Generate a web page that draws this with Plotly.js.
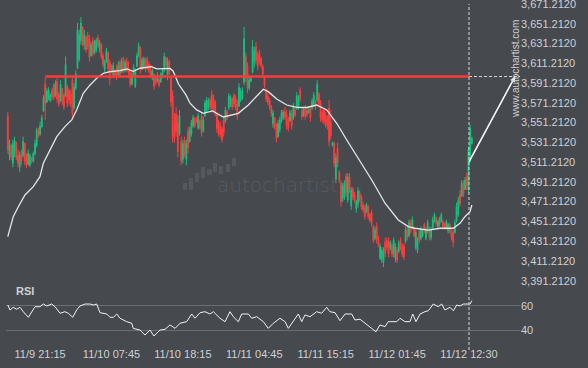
<!DOCTYPE html>
<html><head><meta charset="utf-8">
<script src="https://cdn.plot.ly/plotly-3.0.1.min.js"></script>
<style>html,body{margin:0;padding:0;background:#46494e;}#chart{width:588px;height:368px;}</style>
</head><body><div id="chart"></div>
<script>
// ---- DATA (15-min candles) ----
const open = [
3558,3518,3528,3510,3522,3531,3518,3506,3520,3518,
3530,3514,3509,3508,3516,3512,3520,3528,3544,3539,
3547,3563,3590,3572,3575,3573,3584,3589,3578,3593,
3580,3573,3586,3579,3578,3588,3584,3580,3594,3566,
3586,3606,3615,3634,3648,3630,3638,3640,3636,3619,
3634,3622,3624,3637,3626,3630,3619,3605,3612,3622,
3612,3608,3600,3604,3606,3598,3612,3602,3615,3604,
3613,3606,3603,3590,3598,3588,3608,3618,3626,3605,
3608,3616,3614,3610,3604,3597,3600,3596,3593,3595,
3592,3598,3604,3617,3600,3613,3597,3578,3550,3560,
3552,3540,3532,3514,3533,3514,3542,3532,3540,3548,
3555,3555,3546,3553,3558,3543,3558,3563,3566,3574,
3580,3575,3572,3560,3552,3548,3545,3554,3553,3562,
3566,3570,3575,3579,3576,3570,3568,3574,3576,3592,
3618,3608,3586,3593,3602,3612,3628,3620,3622,3616,
3608,3598,3584,3578,3574,3567,3550,3556,3548,3537,
3544,3553,3556,3562,3560,3553,3553,3560,3556,3564,
3566,3568,3584,3563,3558,3565,3563,3561,3565,3566,
3570,3572,3574,3580,3571,3562,3564,3558,3556,3566,
3552,3528,3530,3494,3525,3501,3490,3474,3476,3497,
3473,3496,3467,3484,3478,3464,3469,3480,3476,3468,
3465,3461,3466,3458,3460,3446,3434,3446,3435,3414,
3413,3410,3430,3432,3431,3424,3427,3419,3414,3422,
3421,3432,3426,3426,3431,3443,3437,3450,3444,3444,
3425,3422,3441,3434,3436,3448,3434,3441,3443,3435,
3445,3452,3455,3446,3449,3452,3451,3449,3445,3442,
3448,3441,3440,3440,3452,3458,3478,3477,3490,3484,
3497,3483,3512,3530];
const high = [
3562,3534,3529,3534,3537,3532,3524,3522,3524,3537,
3531,3520,3524,3520,3516,3522,3534,3546,3546,3552,
3559,3579,3597,3586,3587,3581,3586,3591,3594,3597,
3582,3594,3586,3581,3618,3589,3586,3584,3597,3591,
3604,3652,3645,3658,3648,3645,3638,3643,3640,3633,
3638,3635,3637,3640,3635,3632,3622,3615,3627,3623,
3615,3610,3612,3604,3610,3613,3615,3617,3618,3615,
3617,3613,3604,3602,3610,3606,3622,3632,3628,3617,
3618,3617,3618,3613,3610,3606,3601,3599,3602,3596,
3602,3606,3622,3618,3617,3615,3597,3584,3561,3567,
3559,3564,3537,3534,3537,3534,3547,3547,3554,3559,
3557,3557,3561,3554,3561,3557,3574,3577,3576,3577,
3584,3579,3574,3561,3554,3552,3547,3557,3567,3564,
3581,3579,3577,3581,3579,3574,3591,3586,3587,3648,
3622,3612,3597,3597,3635,3628,3633,3623,3625,3618,
3610,3599,3586,3581,3576,3569,3564,3557,3551,3554,
3557,3564,3564,3567,3564,3557,3564,3564,3571,3566,
3582,3579,3587,3567,3567,3569,3566,3567,3567,3576,
3582,3574,3594,3582,3574,3564,3566,3562,3559,3574,
3564,3532,3532,3520,3531,3503,3493,3490,3493,3500,
3500,3500,3486,3486,3481,3473,3486,3483,3478,3471,
3468,3470,3468,3460,3463,3448,3446,3450,3437,3429,
3425,3425,3435,3435,3435,3432,3429,3435,3429,3425,
3432,3435,3429,3429,3446,3446,3453,3453,3456,3446,
3443,3435,3443,3446,3443,3450,3446,3453,3446,3446,
3456,3460,3456,3453,3456,3460,3453,3450,3453,3450,
3450,3443,3443,3453,3470,3476,3483,3493,3493,3496,
3500,3527,3549,3537];
const low = [
3520,3513,3513,3506,3516,3513,3506,3501,3508,3516,
3508,3505,3508,3506,3510,3511,3518,3526,3536,3538,
3546,3562,3554,3571,3574,3572,3574,3574,3577,3571,
3567,3572,3569,3564,3577,3567,3569,3567,3554,3564,
3584,3606,3613,3630,3628,3625,3622,3625,3613,3618,
3618,3620,3622,3627,3622,3615,3607,3602,3612,3601,
3589,3601,3597,3596,3594,3597,3597,3602,3601,3602,
3602,3599,3587,3589,3597,3586,3607,3618,3601,3604,
3606,3602,3604,3601,3596,3594,3584,3589,3592,3587,
3592,3596,3602,3606,3594,3597,3567,3531,3531,3537,
3516,3538,3508,3510,3516,3508,3520,3531,3537,3546,
3546,3551,3544,3544,3537,3541,3557,3561,3564,3564,
3561,3562,3557,3541,3537,3536,3531,3537,3551,3554,
3564,3567,3564,3567,3564,3554,3567,3572,3574,3589,
3592,3581,3584,3592,3601,3607,3610,3604,3610,3606,
3597,3586,3572,3569,3564,3557,3546,3544,3531,3536,
3541,3551,3554,3554,3544,3542,3552,3544,3554,3557,
3564,3564,3572,3554,3557,3554,3557,3561,3552,3564,
3567,3564,3572,3567,3552,3551,3549,3546,3544,3527,
3534,3527,3506,3490,3506,3490,3466,3471,3473,3476,
3470,3480,3463,3473,3470,3460,3465,3471,3463,3460,
3453,3460,3453,3450,3446,3429,3432,3429,3425,3412,
3409,3405,3415,3422,3415,3422,3415,3415,3410,3409,
3419,3422,3415,3412,3429,3432,3435,3439,3443,3435,
3422,3419,3429,3432,3435,3439,3432,3439,3432,3432,
3443,3450,3446,3443,3446,3450,3443,3443,3443,3439,
3439,3432,3425,3439,3450,3456,3466,3476,3476,3483,
3483,3480,3511,3529];
const close = [
3524,3530,3516,3530,3533,3516,3510,3518,3512,3532,
3512,3508,3520,3518,3511,3520,3530,3543,3538,3548,
3556,3576,3570,3583,3584,3579,3577,3576,3591,3575,
3570,3590,3573,3567,3610,3571,3574,3570,3560,3587,
3600,3645,3640,3652,3632,3640,3625,3628,3617,3630,
3621,3632,3634,3629,3632,3618,3610,3612,3624,3606,
3596,3603,3609,3598,3598,3609,3600,3613,3604,3612,
3605,3602,3590,3599,3607,3603,3619,3629,3606,3614,
3616,3605,3606,3603,3599,3604,3588,3591,3599,3589,
3600,3604,3618,3609,3613,3601,3572,3537,3535,3542,
3522,3558,3512,3530,3520,3530,3526,3544,3551,3556,
3548,3552,3558,3546,3541,3554,3571,3574,3573,3567,
3565,3566,3560,3545,3540,3539,3534,3541,3564,3556,
3578,3577,3567,3570,3567,3558,3587,3583,3584,3636,
3597,3586,3594,3596,3628,3624,3614,3608,3613,3609,
3600,3589,3575,3572,3567,3560,3561,3547,3535,3550,
3554,3561,3562,3557,3548,3545,3561,3548,3568,3559,
3578,3576,3575,3557,3565,3557,3559,3565,3556,3573,
3579,3566,3590,3570,3556,3554,3552,3549,3547,3532,
3538,3531,3510,3516,3510,3493,3471,3487,3490,3480,
3496,3484,3483,3476,3472,3471,3482,3474,3466,3463,
3456,3468,3456,3452,3449,3432,3443,3433,3427,3426,
3422,3421,3419,3425,3418,3430,3418,3432,3426,3412,
3429,3425,3418,3415,3443,3435,3450,3442,3453,3437,
3440,3432,3432,3443,3441,3441,3443,3450,3435,3443,
3453,3458,3449,3451,3454,3458,3446,3445,3451,3448,
3441,3435,3430,3450,3466,3472,3469,3490,3479,3493,
3487,3524,3545,3535];

// moving average
const maIdx = [0,3.2,6.2,10.1,15,18.9,20.9,24.8,28.8,33.6,37.6,40.5,44.4,48.4,52.3,56.2,60.1,66,70,73.8,77.8,84.6,87.6,95.4,97.2,100.5,104.8,107.2,111.1,115,120.4,126.8,135.6,141.5,146.4,150.3,153.2,158.2,164.1,170,175.8,181.7,187.6,193.5,199.4,206.2,214.1,221.9,229.7,235.6,239.5,247.4,254.2,262,266,268.9,271.9,273];
const maVal = [3435.8,3456.0,3466.1,3478.0,3486.4,3496.5,3510.0,3523.5,3537.0,3547.1,3553.9,3564.0,3580.9,3589.3,3596.1,3601.1,3602.7,3603.8,3605.5,3603.0,3606.2,3607.8,3605.5,3606.0,3603.5,3590.0,3579.2,3570.8,3564.0,3560.6,3563.0,3556.9,3560.6,3569.0,3577.4,3585.0,3582.5,3575.1,3569.0,3566.7,3566.5,3569.0,3564.0,3550.5,3533.6,3515.1,3493.1,3469.6,3452.7,3445.9,3444.3,3442.5,3444.3,3444.3,3449.3,3456.0,3461.1,3467.8];

// RSI
const rsiIdx = [0,1.3,3.2,5.2,7.2,9.1,12.1,14,16,18.9,20.9,22.9,25.8,27.8,30.7,33.6,35.6,38.2,40.5,42.5,45.5,48.4,50.3,52.3,54.2,58.2,60.1,62.1,64.1,66,69.9,72.9,73.8,77.8,80.7,83.6,86,89.5,92.5,95.4,98.4,101.3,105.2,108.2,110.1,113.1,116,118.9,120.9,124.8,127.8,130.7,132.6,135.6,137.6,141.5,143.5,146.4,150.3,153.2,156.2,160.1,163.1,165,168,170.9,172.9,174.8,177.8,181.7,184.6,187.6,189.5,192.5,195.4,198.4,202.3,204.2,207.2,210.1,214.1,216.6,218.9,221.9,223.8,228.8,230.7,233.6,236.6,238.2,240.1,242.5,245.4,247.4,250.3,253.2,255.2,257.2,260.1,262.1,264.1,266,268,271.9,273];
const rsiVal = [60.8,56.7,58.9,57.3,58.9,55.3,50.7,55.3,59.4,59.4,61.6,60,61.6,59.4,54.0,55.3,54.0,50.7,56.7,60,61.6,61.6,60.8,61.6,54.5,53.4,50.7,50.7,53.4,49.9,47.1,45.8,41.6,40.2,36.1,40.2,35.3,40.2,40.8,44.4,41.6,45.8,47.1,53.4,49.9,54.5,55.3,53.4,55.3,49.9,47.1,55.3,51.2,47.1,53.4,53.4,49.9,51.2,47.1,41.6,45.8,49.9,47.1,41.6,47.1,53.4,47.1,52.6,51.2,55.3,54.0,58.9,55.3,54.5,47.9,53.4,53.4,48.5,49.1,45.8,41.6,38.8,44.4,43.0,47.1,47.1,49.9,47.1,47.1,53.4,47.1,53.4,55.3,56.1,61.6,59.4,61.6,56.7,58.9,56.1,60.8,60,61.6,61.6,64.4];

// resistance level, projection, axis ticks
const levelPrice = 3597.8;
const levelStartIdx = 22;
const nowIdx = 271.3;
const projIdx = [271.3, 298.4];
const projPrice = [3511.4, 3597.8];
const tickIdx = [19, 61, 103, 145, 187, 229, 271.3];
const tickLabels = ["11/9 21:15","11/10 07:45","11/10 18:15","11/11 04:45","11/11 15:15","11/12 01:45","11/12 12:30"];
const priceTicks = [3391.212,3411.212,3431.212,3451.212,3471.212,3491.212,3511.212,3531.212,3551.212,3571.212,3591.212,3611.212,3631.212,3651.212,3671.212];
const rsiTicks = [40, 60];

// ---- STYLE / LAYOUT ----
const BG = '#46494e', TXT = '#cfd0d2', GREEN = '#14c27e', RED = '#ff3d3d';
const W = 588, H = 368, ML = 6, MR = 68, MT = 0, MB = 22;
const PW = W - ML - MR, PH = H - MT - MB;
const XR = [-1.06, 301.3];
const idx = open.map((_, i) => i);
const px = v => (v - ML) / PW, py = v => 1 - (v - MT) / PH;

const traces = [
  { type: 'candlestick', x: idx, open: open, high: high, low: low, close: close,
    xaxis: 'x', yaxis: 'y', whiskerwidth: 0, hoverinfo: 'skip',
    increasing: { line: { color: GREEN, width: 1 }, fillcolor: GREEN },
    decreasing: { line: { color: RED, width: 1 }, fillcolor: RED } },
  { type: 'scatter', mode: 'lines', x: maIdx, y: maVal, xaxis: 'x', yaxis: 'y',
    line: { color: '#e6e6e6', width: 1.3 }, hoverinfo: 'skip' },
  { type: 'scatter', mode: 'lines', x: [levelStartIdx, nowIdx], y: [levelPrice, levelPrice],
    xaxis: 'x', yaxis: 'y', line: { color: '#ff3a3a', width: 2.6 }, hoverinfo: 'skip' },
  { type: 'scatter', mode: 'lines', x: [nowIdx, XR[1]], y: [levelPrice, levelPrice],
    xaxis: 'x', yaxis: 'y', line: { color: '#d8d8d8', width: 1, dash: '3px,2px' }, hoverinfo: 'skip' },
  { type: 'scatter', mode: 'lines', x: projIdx, y: projPrice, xaxis: 'x', yaxis: 'y',
    line: { color: '#f2f2f2', width: 1.3 }, hoverinfo: 'skip' },
  { type: 'scatter', mode: 'lines', x: rsiIdx, y: rsiVal, xaxis: 'x', yaxis: 'y2',
    line: { color: '#f2f2f2', width: 1 }, hoverinfo: 'skip' }
];

const logoBars = [[183,187,183,190],[189,193,178,190],[195,199,173,182],[201,205,167,178],[207,212,169,175],[213,217,163,172],[219,223,166,174],[226,230,164,172],[232,236,158,166]];
const shapes = logoBars.map(b => ({ type: 'rect', xref: 'paper', yref: 'paper', layer: 'below',
  x0: px(b[0]), x1: px(b[1]), y0: py(b[3]), y1: py(b[2]), line: { width: 0 }, fillcolor: '#55585d' }));
shapes.push({ type: 'line', xref: 'x', yref: 'paper', x0: nowIdx, x1: nowIdx, y0: py(350), y1: py(4),
  line: { color: '#d8d8d8', width: 1, dash: '3px,2px' } });

const font = { family: '"Liberation Sans", Arial, sans-serif', size: 11, color: TXT };
const layout = {
  width: W, height: H, margin: { l: ML, r: MR, t: MT, b: MB, pad: 0 },
  paper_bgcolor: BG, plot_bgcolor: BG, showlegend: false, font: font,
  xaxis: { range: XR, anchor: 'y2', showgrid: false, zeroline: false, showline: false,
    tickmode: 'array', tickvals: tickIdx, ticktext: tickLabels, ticks: '', tickfont: font,
    ticklabeloverflow: 'allow', rangeslider: { visible: false }, fixedrange: true },
  yaxis: { domain: [py(290), 1], range: [3381.8, 3675.26], side: 'right', showgrid: false,
    zeroline: false, showline: false, tickmode: 'array', tickvals: priceTicks,
    tickformat: ',.4f', ticks: '', tickfont: font, ticklabeloverflow: 'allow', fixedrange: true },
  yaxis2: { domain: [0, py(296)], range: [27.1, 68.2], side: 'right', showgrid: true,
    gridcolor: '#6a6d71', gridwidth: 1, zeroline: false, showline: false,
    tickmode: 'array', tickvals: rsiTicks, ticks: '', tickfont: font, fixedrange: true },
  shapes: shapes,
  annotations: [
    { xref: 'x', yref: 'y', axref: 'x', ayref: 'y', x: projIdx[1], y: projPrice[1],
      ax: projIdx[0], ay: projPrice[0], text: '', showarrow: true, arrowhead: 2,
      arrowsize: 0.8, arrowwidth: 1.3, arrowcolor: '#f2f2f2' },
    { xref: 'paper', yref: 'paper', x: px(515), y: py(69), xanchor: 'center', yanchor: 'middle',
      text: 'www.autochartist.com', textangle: -90, showarrow: false,
      font: { family: '"Liberation Sans", Arial, sans-serif', size: 10, color: TXT } },
    { xref: 'paper', yref: 'paper', x: px(277), y: py(185), xanchor: 'center', yanchor: 'middle',
      text: 'autochartist', showarrow: false,
      font: { family: '"DejaVu Sans", sans-serif', size: 20, weight: 300, color: '#595c61' } },
    { xref: 'paper', yref: 'paper', x: px(14), y: py(291), xanchor: 'left', yanchor: 'middle',
      text: '<b>RSI</b>', showarrow: false,
      font: { family: '"Liberation Sans", Arial, sans-serif', size: 11, color: TXT } }
  ]
};
Plotly.newPlot('chart', traces, layout, { staticPlot: true, displayModeBar: false });
</script></body></html>
